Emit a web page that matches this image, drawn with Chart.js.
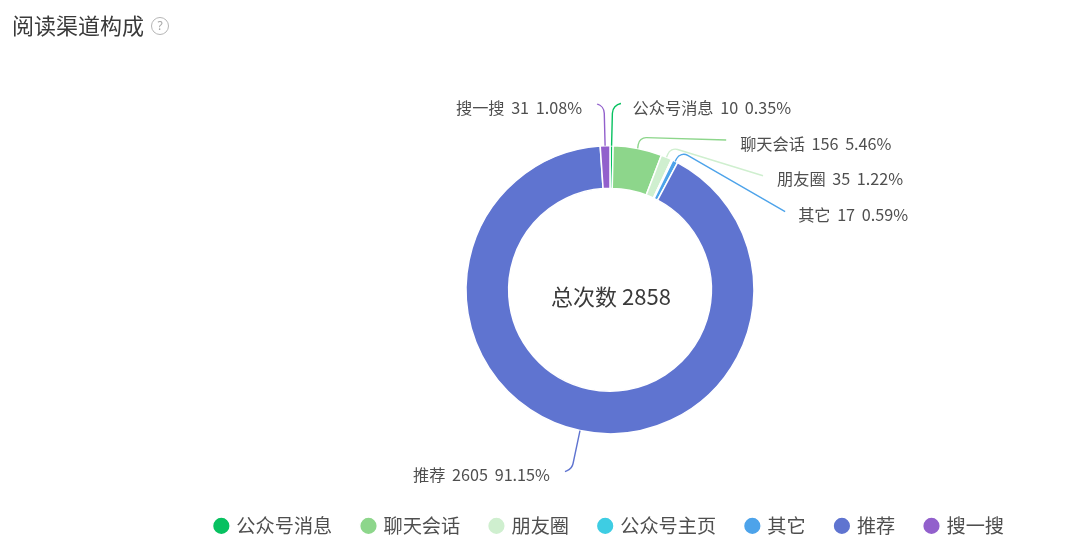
<!DOCTYPE html>
<html><head><meta charset="utf-8">
<script src="https://cdn.jsdelivr.net/npm/chart.js@4/dist/chart.umd.min.js"></script>
<style>
html,body{margin:0;padding:0;background:#fff;width:1080px;height:559px;overflow:hidden}
#wrap{position:relative;width:1080px;height:559px}
canvas{position:absolute;left:0;top:0}
#title{position:absolute;left:12px;top:8px;font:22px/32px "Noto Sans CJK SC";color:#3a3a3a;white-space:nowrap}
#help{position:absolute;left:151px;top:17px;width:16px;height:16px;border:1.3px solid #b5b5b5;border-radius:50%;font:12px/16px "Noto Sans";color:#a5a5a5;text-align:center}
</style></head><body>
<div id="wrap">
<canvas id="c" width="1080" height="559"></canvas>
<div id="title">阅读渠道构成</div><div id="help">?</div>
</div>
<script>
const categories = ["公众号消息","聊天会话","朋友圈","公众号主页","其它","推荐","搜一搜"];
const values = [10,156,35,4,17,2605,31];
const percents = ["0.35%","5.46%","1.22%","0.14%","0.59%","91.15%","1.08%"];
const colors = ["#07c160","#8dd68b","#cfefcf","#3ecde3","#4da3ea","#5f74d0","#9260cc"];
const centerText = "总次数 2858";
const FONT = '"Noto Sans CJK SC"';
// leader geometry relative to each slice's outer-edge midpoint: elbow, end, label offset from end
const leaders = {
  0:{b:[1,-41],c:[8,-42],t:[13,4],r:10,align:"left"},
  1:{b:[1.5,-11],c:[88.5,-8.5],t:[14,4],r:8,align:"left"},
  2:{b:[4,-10],c:[96.5,18.4],t:[14,3],r:8,align:"left"},
  4:{b:[5.5,-10],c:[110,50.4],t:[13,3],r:8,align:"left"},
  5:{b:[-8,38],c:[-15,41],t:[-15,3],r:10,align:"right"},
  6:{b:[-1,-40],c:[-8,-42],t:[-15,4],r:10,align:"right"}
};
const labelPlugin = {
  id:"labels",
  afterDatasetsDraw(chart){
    const ctx = chart.ctx, arcs = chart.getDatasetMeta(0).data;
    ctx.save();
    Object.keys(leaders).forEach(k=>{
      const i=+k, L=leaders[k], a=arcs[i];
      const p=a.getProps(["x","y","startAngle","endAngle","outerRadius"],true);
      const m=(p.startAngle+p.endAngle)/2;
      const ax=p.x+Math.cos(m)*p.outerRadius, ay=p.y+Math.sin(m)*p.outerRadius;
      const bx=ax+L.b[0],by=ay+L.b[1],cx=ax+L.c[0],cy=ay+L.c[1];
      ctx.beginPath();ctx.moveTo(ax,ay);ctx.arcTo(bx,by,cx,cy,L.r);ctx.lineTo(cx,cy);
      ctx.strokeStyle=colors[i];ctx.lineWidth=1.4;ctx.stroke();
      ctx.font="16.2px "+FONT;ctx.wordSpacing="3px";ctx.fillStyle="#4f4f4f";ctx.textAlign=L.align;ctx.textBaseline="middle";
      ctx.fillText(categories[i]+" "+values[i]+" "+percents[i],cx+L.t[0],cy+L.t[1]);
    });
    const a0=arcs[0];
    ctx.wordSpacing="0px";
    ctx.font="22px "+FONT;ctx.fillStyle="#3a3a3a";ctx.textAlign="center";ctx.textBaseline="middle";
    ctx.fillText(centerText,a0.x+1,a0.y+7);
    ctx.restore();
  }
};
new Chart(document.getElementById("c"),{
  type:"doughnut",
  data:{labels:categories,datasets:[{data:values,backgroundColor:colors,borderColor:"#fff",borderWidth:1.5}]},
  options:{
    responsive:false,animation:false,radius:144,cutout:"70.4%",
    layout:{padding:{left:140,right:0,top:94,bottom:13.5}},
    plugins:{
      tooltip:{enabled:false},
      legend:{position:"bottom",labels:{font:{size:19.2,family:FONT},color:"#4f4f4f",usePointStyle:true,pointStyle:"circle",boxWidth:10.8,boxHeight:12.5,padding:30.8}}
    }
  },
  plugins:[labelPlugin]
});
</script>
</body></html>
